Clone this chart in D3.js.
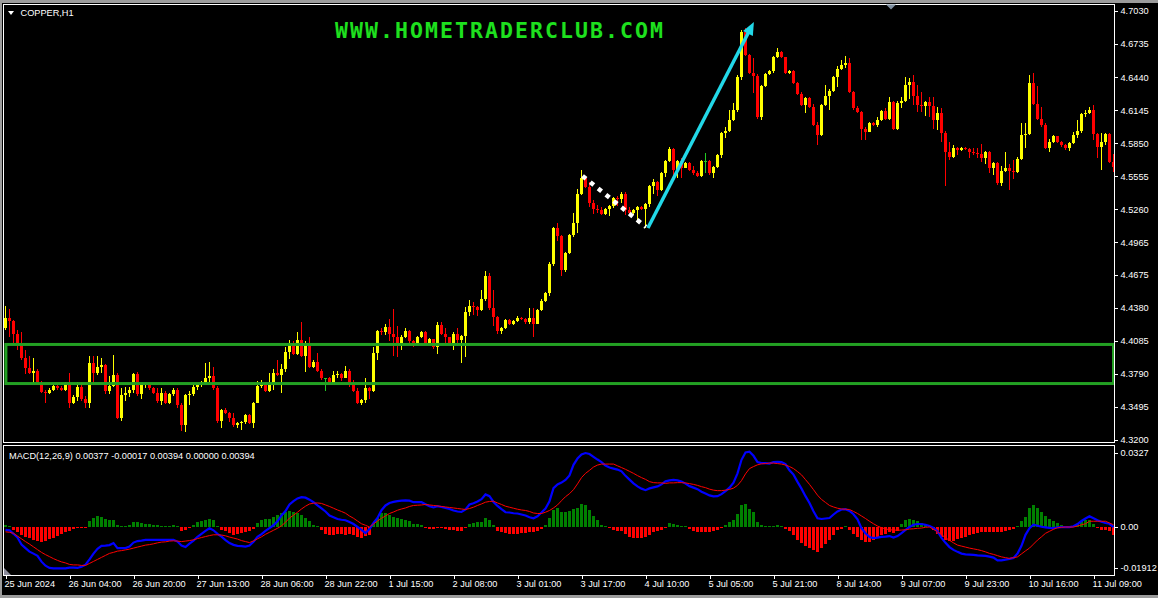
<!DOCTYPE html>
<html lang="en">
<head>
<meta charset="UTF-8">
<title>COPPER,H1</title>
<script src="https://d3js.org/d3.v7.min.js"></script>
<style>
  html, body { margin: 0; padding: 0; background: #000; overflow: hidden; }
  svg { display: block; }
  .axis text { fill: #fff; font-family: "Liberation Sans", Arial, sans-serif; font-size: 9.2px; }
  .axis line { stroke: #fff; shape-rendering: crispEdges; }
  .label { fill: #fff; font-family: "Liberation Sans", Arial, sans-serif; font-size: 9.2px; }
</style>
</head>
<body>
<svg id="chart" width="1158" height="598"></svg>
<script>
// ---- data ----
const firstOpen = 4.420;

const closes = [
  4.429,4.426,4.415,4.406,4.393,4.384,4.380,4.382,4.371,4.363,
  4.362,4.365,4.368,4.366,4.365,4.369,4.353,4.358,4.367,4.357,
  4.353,4.389,4.380,4.385,4.387,4.364,4.368,4.378,4.340,4.360,
  4.362,4.365,4.379,4.361,4.369,4.370,4.366,4.362,4.355,4.362,
  4.353,4.361,4.365,4.351,4.333,4.360,4.361,4.367,4.369,4.372,
  4.375,4.377,4.366,4.337,4.347,4.344,4.340,4.333,4.335,4.336,
  4.342,4.335,4.353,4.368,4.371,4.364,4.369,4.380,4.378,4.383,
  4.399,4.406,4.397,4.409,4.395,4.407,4.385,4.390,4.382,4.375,
  4.375,4.371,4.378,4.379,4.375,4.382,4.371,4.364,4.353,4.356,
  4.366,4.364,4.398,4.417,4.416,4.421,4.415,4.412,4.406,4.412,
  4.417,4.408,4.406,4.412,4.416,4.407,4.410,4.403,4.423,4.415,
  4.412,4.406,4.415,4.409,4.413,4.434,4.440,4.439,4.436,4.446,
  4.466,4.438,4.430,4.417,4.420,4.427,4.424,4.426,4.429,4.428,
  4.425,4.429,4.424,4.436,4.444,4.451,4.477,4.509,4.502,4.472,
  4.487,4.503,4.514,4.540,4.554,4.546,4.532,4.526,4.525,4.522,
  4.526,4.529,4.536,4.535,4.540,4.525,4.523,4.525,4.528,4.526,
  4.531,4.547,4.550,4.543,4.558,4.569,4.580,4.561,4.569,4.563,
  4.567,4.561,4.558,4.556,4.569,4.569,4.558,4.564,4.574,4.594,
  4.596,4.606,4.615,4.644,4.684,4.664,4.648,4.645,4.608,4.636,
  4.647,4.649,4.662,4.666,4.662,4.648,4.649,4.639,4.629,4.619,
  4.625,4.617,4.601,4.592,4.619,4.627,4.632,4.644,4.651,4.655,
  4.657,4.631,4.616,4.613,4.598,4.595,4.603,4.601,4.606,4.614,
  4.607,4.622,4.598,4.621,4.623,4.637,4.640,4.627,4.619,4.618,
  4.622,4.618,4.606,4.612,4.594,4.577,4.573,4.581,4.579,4.581,
  4.580,4.577,4.576,4.575,4.572,4.577,4.563,4.567,4.549,4.560,
  4.563,4.560,4.559,4.571,4.592,4.593,4.639,4.620,4.607,4.601,
  4.581,4.586,4.591,4.586,4.583,4.581,4.585,4.592,4.596,4.611,
  4.612,4.615,4.593,4.582,4.586,4.593,4.568,4.564
];

const highs = [
  4.440,4.437,4.427,4.418,4.416,4.400,4.395,4.393,4.383,4.373,
  4.365,4.366,4.369,4.369,4.368,4.372,4.380,4.360,4.372,4.369,
  4.359,4.395,4.395,4.395,4.393,4.388,4.377,4.396,4.380,4.366,
  4.367,4.367,4.380,4.381,4.370,4.371,4.371,4.367,4.366,4.366,
  4.364,4.362,4.366,4.366,4.353,4.361,4.364,4.369,4.370,4.373,
  4.389,4.390,4.385,4.368,4.348,4.349,4.345,4.344,4.336,4.337,
  4.343,4.343,4.354,4.373,4.374,4.372,4.380,4.383,4.391,4.388,
  4.403,4.409,4.408,4.416,4.425,4.408,4.412,4.391,4.398,4.383,
  4.375,4.376,4.382,4.382,4.380,4.386,4.383,4.374,4.366,4.357,
  4.375,4.367,4.403,4.418,4.420,4.424,4.428,4.437,4.422,4.414,
  4.420,4.418,4.409,4.413,4.417,4.417,4.411,4.410,4.425,4.425,
  4.420,4.412,4.416,4.420,4.414,4.439,4.445,4.443,4.440,4.454,
  4.471,4.469,4.454,4.431,4.421,4.428,4.428,4.427,4.431,4.430,
  4.429,4.438,4.438,4.437,4.446,4.452,4.479,4.510,4.514,4.503,
  4.488,4.504,4.523,4.544,4.561,4.555,4.550,4.534,4.530,4.528,
  4.527,4.530,4.537,4.538,4.541,4.541,4.528,4.526,4.529,4.529,
  4.532,4.548,4.553,4.551,4.559,4.570,4.582,4.581,4.570,4.572,
  4.568,4.568,4.565,4.560,4.570,4.576,4.570,4.565,4.575,4.595,
  4.599,4.615,4.621,4.646,4.686,4.688,4.665,4.661,4.647,4.637,
  4.648,4.650,4.663,4.670,4.667,4.659,4.650,4.650,4.640,4.631,
  4.626,4.626,4.620,4.604,4.620,4.637,4.633,4.645,4.654,4.659,
  4.663,4.661,4.632,4.618,4.614,4.599,4.604,4.604,4.608,4.615,
  4.616,4.626,4.623,4.623,4.626,4.644,4.643,4.646,4.637,4.631,
  4.623,4.626,4.626,4.617,4.616,4.596,4.586,4.583,4.582,4.582,
  4.582,4.581,4.581,4.581,4.584,4.578,4.578,4.568,4.568,4.565,
  4.577,4.566,4.570,4.573,4.603,4.603,4.646,4.648,4.636,4.617,
  4.603,4.589,4.592,4.591,4.587,4.584,4.586,4.595,4.606,4.612,
  4.615,4.617,4.619,4.594,4.594,4.594,4.594,4.575
];

const lows = [
  4.418,4.412,4.407,4.400,4.391,4.379,4.379,4.371,4.369,4.362,
  4.353,4.361,4.364,4.365,4.364,4.364,4.349,4.352,4.355,4.355,
  4.349,4.349,4.371,4.378,4.380,4.361,4.361,4.367,4.339,4.337,
  4.355,4.358,4.362,4.359,4.357,4.366,4.365,4.361,4.353,4.351,
  4.352,4.352,4.359,4.349,4.328,4.327,4.351,4.359,4.365,4.367,
  4.371,4.372,4.365,4.335,4.331,4.343,4.336,4.332,4.331,4.329,
  4.334,4.334,4.331,4.353,4.366,4.363,4.363,4.365,4.377,4.362,
  4.381,4.392,4.396,4.396,4.394,4.381,4.384,4.384,4.381,4.374,
  4.364,4.370,4.370,4.375,4.373,4.375,4.367,4.363,4.352,4.351,
  4.353,4.357,4.363,4.391,4.414,4.414,4.408,4.395,4.394,4.400,
  4.411,4.407,4.403,4.405,4.411,4.406,4.406,4.401,4.397,4.414,
  4.407,4.405,4.400,4.404,4.389,4.394,4.431,4.432,4.431,4.435,
  4.444,4.436,4.422,4.415,4.415,4.419,4.423,4.423,4.425,4.427,
  4.424,4.424,4.412,4.424,4.435,4.443,4.449,4.475,4.498,4.466,
  4.470,4.486,4.501,4.505,4.539,4.545,4.528,4.522,4.523,4.521,
  4.521,4.520,4.527,4.529,4.532,4.521,4.522,4.521,4.514,4.525,
  4.509,4.528,4.540,4.538,4.542,4.555,4.568,4.554,4.554,4.554,
  4.563,4.560,4.557,4.555,4.555,4.558,4.557,4.554,4.563,4.572,
  4.590,4.595,4.605,4.613,4.641,4.663,4.647,4.630,4.607,4.606,
  4.635,4.646,4.648,4.661,4.661,4.647,4.647,4.638,4.628,4.618,
  4.612,4.616,4.600,4.583,4.591,4.618,4.615,4.631,4.635,4.650,
  4.652,4.630,4.615,4.612,4.588,4.588,4.595,4.600,4.599,4.605,
  4.606,4.606,4.597,4.597,4.616,4.622,4.624,4.619,4.613,4.613,
  4.609,4.608,4.598,4.597,4.586,4.547,4.570,4.572,4.574,4.578,
  4.579,4.572,4.574,4.572,4.568,4.566,4.558,4.557,4.548,4.547,
  4.559,4.543,4.553,4.558,4.570,4.581,4.592,4.619,4.606,4.599,
  4.580,4.577,4.585,4.585,4.582,4.579,4.578,4.584,4.590,4.594,
  4.608,4.611,4.588,4.572,4.561,4.583,4.567,4.559
];

// MACD(12,26,9): main (blue), signal (red), histogram
const macdMain = [
  -0.0011,-0.0013,-0.0027,-0.0042,-0.0070,-0.0084,-0.0098,-0.0106,-0.0115,-0.0138,
  -0.0154,-0.0163,-0.0165,-0.0165,-0.0165,-0.0165,-0.0162,-0.0162,-0.0163,-0.0158,
  -0.0150,-0.0129,-0.0106,-0.0087,-0.0075,-0.0074,-0.0072,-0.0064,-0.0084,-0.0084,
  -0.0084,-0.0078,-0.0062,-0.0056,-0.0054,-0.0051,-0.0051,-0.0051,-0.0051,-0.0051,
  -0.0051,-0.0051,-0.0051,-0.0058,-0.0074,-0.0080,-0.0066,-0.0054,-0.0039,-0.0027,
  -0.0015,-0.0005,-0.0013,-0.0027,-0.0038,-0.0052,-0.0064,-0.0071,-0.0075,-0.0076,
  -0.0078,-0.0074,-0.0059,-0.0039,-0.0028,-0.0015,-0.0004,0.0007,0.0023,0.0046,
  0.0064,0.0090,0.0103,0.0114,0.0119,0.0117,0.0109,0.0099,0.0086,0.0074,
  0.0062,0.0046,0.0039,0.0032,0.0029,0.0027,0.0020,0.0012,0.0001,-0.0011,
  -0.0024,-0.0008,0.0016,0.0036,0.0067,0.0086,0.0096,0.0100,0.0103,0.0105,
  0.0106,0.0105,0.0099,0.0099,0.0099,0.0091,0.0083,0.0078,0.0083,0.0080,
  0.0076,0.0072,0.0066,0.0062,0.0060,0.0070,0.0090,0.0095,0.0102,0.0111,
  0.0130,0.0123,0.0100,0.0084,0.0071,0.0059,0.0058,0.0055,0.0054,0.0050,
  0.0046,0.0039,0.0035,0.0043,0.0058,0.0074,0.0103,0.0155,0.0170,0.0177,
  0.0188,0.0206,0.0248,0.0273,0.0289,0.0295,0.0291,0.0280,0.0269,0.0259,
  0.0245,0.0237,0.0233,0.0229,0.0222,0.0204,0.0189,0.0174,0.0162,0.0153,
  0.0147,0.0154,0.0158,0.0162,0.0170,0.0182,0.0186,0.0188,0.0186,0.0181,
  0.0173,0.0163,0.0157,0.0151,0.0141,0.0134,0.0126,0.0122,0.0123,0.0131,
  0.0143,0.0157,0.0177,0.0214,0.0268,0.0297,0.0300,0.0284,0.0259,0.0255,
  0.0255,0.0253,0.0259,0.0260,0.0259,0.0251,0.0226,0.0209,0.0180,0.0153,
  0.0123,0.0096,0.0063,0.0035,0.0032,0.0034,0.0036,0.0050,0.0062,0.0070,
  0.0071,0.0064,0.0051,0.0031,-0.0005,-0.0025,-0.0040,-0.0044,-0.0042,-0.0039,
  -0.0038,-0.0036,-0.0042,-0.0036,-0.0024,-0.0011,0.0000,0.0009,0.0012,0.0012,
  0.0009,0.0004,-0.0004,-0.0017,-0.0043,-0.0063,-0.0080,-0.0091,-0.0099,-0.0106,
  -0.0109,-0.0110,-0.0111,-0.0113,-0.0114,-0.0115,-0.0118,-0.0122,-0.0133,-0.0133,
  -0.0130,-0.0127,-0.0123,-0.0106,-0.0075,-0.0031,-0.0005,0.0009,0.0005,0.0001,
  -0.0001,-0.0003,-0.0004,-0.0001,0.0000,0.0000,0.0000,0.0003,0.0012,0.0024,
  0.0034,0.0043,0.0035,0.0027,0.0021,0.0016,0.0013,0.0000
];

const macdSignal = [
  -0.0019,-0.0021,-0.0025,-0.0036,-0.0047,-0.0058,-0.0068,-0.0079,-0.0090,-0.0101,
  -0.0110,-0.0118,-0.0126,-0.0133,-0.0139,-0.0143,-0.0149,-0.0151,-0.0151,-0.0153,
  -0.0153,-0.0145,-0.0137,-0.0129,-0.0121,-0.0113,-0.0105,-0.0101,-0.0096,-0.0094,
  -0.0091,-0.0088,-0.0084,-0.0080,-0.0076,-0.0072,-0.0070,-0.0067,-0.0063,-0.0060,
  -0.0059,-0.0056,-0.0055,-0.0056,-0.0058,-0.0056,-0.0054,-0.0051,-0.0046,-0.0042,
  -0.0038,-0.0034,-0.0031,-0.0031,-0.0032,-0.0035,-0.0040,-0.0044,-0.0048,-0.0054,
  -0.0058,-0.0062,-0.0055,-0.0047,-0.0039,-0.0029,-0.0021,-0.0013,-0.0005,0.0005,
  0.0019,0.0036,0.0047,0.0059,0.0072,0.0083,0.0092,0.0095,0.0096,0.0094,
  0.0088,0.0082,0.0075,0.0068,0.0062,0.0055,0.0044,0.0035,0.0024,0.0013,
  0.0007,0.0000,0.0012,0.0024,0.0035,0.0044,0.0054,0.0060,0.0067,0.0072,
  0.0076,0.0082,0.0086,0.0087,0.0088,0.0090,0.0088,0.0086,0.0084,0.0082,
  0.0080,0.0078,0.0076,0.0074,0.0072,0.0070,0.0074,0.0079,0.0086,0.0092,
  0.0099,0.0102,0.0103,0.0096,0.0090,0.0083,0.0079,0.0075,0.0071,0.0068,
  0.0066,0.0062,0.0056,0.0054,0.0054,0.0059,0.0066,0.0076,0.0088,0.0105,
  0.0121,0.0133,0.0149,0.0172,0.0197,0.0214,0.0226,0.0239,0.0247,0.0251,
  0.0251,0.0251,0.0251,0.0244,0.0237,0.0230,0.0222,0.0214,0.0205,0.0197,
  0.0190,0.0181,0.0177,0.0176,0.0176,0.0174,0.0176,0.0176,0.0177,0.0177,
  0.0176,0.0173,0.0170,0.0166,0.0161,0.0157,0.0151,0.0147,0.0145,0.0145,
  0.0147,0.0150,0.0155,0.0166,0.0185,0.0212,0.0233,0.0241,0.0248,0.0252,
  0.0253,0.0255,0.0255,0.0253,0.0251,0.0247,0.0241,0.0233,0.0221,0.0208,
  0.0189,0.0170,0.0149,0.0127,0.0110,0.0098,0.0086,0.0080,0.0075,0.0072,
  0.0071,0.0070,0.0062,0.0054,0.0044,0.0034,0.0023,0.0013,0.0004,-0.0003,
  -0.0007,-0.0011,-0.0012,-0.0013,-0.0012,-0.0011,-0.0008,-0.0007,-0.0005,-0.0004,
  -0.0001,0.0000,-0.0009,-0.0019,-0.0030,-0.0043,-0.0053,-0.0063,-0.0072,-0.0076,
  -0.0080,-0.0084,-0.0087,-0.0090,-0.0094,-0.0099,-0.0105,-0.0109,-0.0114,-0.0119,
  -0.0122,-0.0125,-0.0122,-0.0119,-0.0107,-0.0095,-0.0084,-0.0068,-0.0052,-0.0039,
  -0.0025,-0.0017,-0.0009,-0.0003,-0.0001,0.0000,0.0000,0.0000,0.0004,0.0009,
  0.0013,0.0023,0.0023,0.0023,0.0023,0.0023,0.0016,0.0009
];

const macdHist = [
  0.0008,0.0005,-0.0013,-0.0021,-0.0031,-0.0038,-0.0044,-0.0051,-0.0055,-0.0058,
  -0.0055,-0.0048,-0.0042,-0.0035,-0.0028,-0.0021,-0.0017,-0.0008,-0.0005,-0.0005,
  -0.0004,0.0023,0.0036,0.0043,0.0040,0.0032,0.0029,0.0027,0.0009,0.0005,
  0.0005,0.0009,0.0019,0.0019,0.0016,0.0013,0.0012,0.0009,0.0008,0.0005,
  0.0004,0.0005,0.0008,0.0004,-0.0017,-0.0013,-0.0005,0.0009,0.0019,0.0023,
  0.0029,0.0034,0.0029,0.0005,-0.0013,-0.0017,-0.0024,-0.0031,-0.0028,-0.0024,
  -0.0021,-0.0017,-0.0008,0.0016,0.0029,0.0032,0.0032,0.0040,0.0046,0.0054,
  0.0059,0.0063,0.0059,0.0054,0.0046,0.0036,0.0023,0.0009,0.0005,-0.0013,
  -0.0027,-0.0031,-0.0031,-0.0028,-0.0028,-0.0031,-0.0028,-0.0031,-0.0040,-0.0044,
  -0.0035,-0.0031,0.0016,0.0036,0.0054,0.0054,0.0046,0.0040,0.0036,0.0032,
  0.0029,0.0023,0.0013,0.0011,0.0008,-0.0005,-0.0008,-0.0008,-0.0004,-0.0004,
  -0.0008,-0.0011,-0.0013,-0.0017,-0.0017,-0.0004,0.0013,0.0016,0.0019,0.0019,
  0.0036,0.0029,0.0009,-0.0017,-0.0021,-0.0024,-0.0027,-0.0028,-0.0027,-0.0024,
  -0.0024,-0.0021,-0.0021,-0.0017,-0.0008,0.0009,0.0036,0.0067,0.0076,0.0059,
  0.0059,0.0063,0.0070,0.0076,0.0090,0.0086,0.0067,0.0043,0.0029,0.0009,
  0.0003,-0.0004,-0.0013,-0.0017,-0.0017,-0.0027,-0.0040,-0.0044,-0.0044,-0.0044,
  -0.0040,-0.0031,-0.0021,-0.0017,-0.0011,-0.0004,0.0016,0.0013,0.0008,0.0005,
  0.0003,-0.0008,-0.0017,-0.0021,-0.0021,-0.0021,-0.0021,-0.0017,-0.0011,-0.0004,
  0.0009,0.0019,0.0027,0.0050,0.0086,0.0090,0.0072,0.0059,0.0019,0.0009,
  0.0005,0.0003,0.0005,0.0008,0.0005,-0.0009,-0.0017,-0.0032,-0.0051,-0.0064,
  -0.0075,-0.0084,-0.0091,-0.0098,-0.0084,-0.0067,-0.0051,-0.0031,-0.0013,-0.0008,
  0.0005,-0.0011,-0.0027,-0.0040,-0.0051,-0.0058,-0.0058,-0.0051,-0.0040,-0.0031,
  -0.0027,-0.0021,-0.0024,-0.0017,0.0013,0.0027,0.0032,0.0027,0.0023,0.0016,
  0.0008,0.0005,-0.0011,-0.0027,-0.0038,-0.0051,-0.0054,-0.0054,-0.0048,-0.0044,
  -0.0038,-0.0031,-0.0027,-0.0024,-0.0021,-0.0019,-0.0019,-0.0021,-0.0021,-0.0019,
  -0.0016,-0.0013,-0.0008,0.0005,0.0023,0.0040,0.0076,0.0086,0.0076,0.0059,
  0.0043,0.0032,0.0023,0.0016,0.0009,0.0005,0.0003,0.0005,0.0013,0.0023,
  0.0029,0.0029,0.0013,-0.0004,-0.0011,-0.0011,-0.0017,-0.0031
];

const timeLabels = [
  "25 Jun 2024","26 Jun 04:00","26 Jun 20:00","27 Jun 13:00","28 Jun 06:00","28 Jun 22:00",
  "1 Jul 15:00","2 Jul 08:00","3 Jul 01:00","3 Jul 17:00","4 Jul 10:00","5 Jul 05:00",
  "5 Jul 21:00","8 Jul 14:00","9 Jul 07:00","9 Jul 23:00","10 Jul 16:00","11 Jul 09:00"
];
const barsPerLabel = 16;

const priceTicks = [4.7030,4.6735,4.6440,4.6145,4.5850,4.5555,4.5260,4.4965,4.4675,4.4380,4.4085,4.3790,4.3495,4.3200];
const macdTicks = [0.0327, 0, -0.01912];
const macdTickLabels = ["0.0327", "0.00", "-0.01912"];

// drawn objects (bar index / price)
const zone = { fromBar: 0.1, toBar: 277, top: 4.4053, bottom: 4.3704 };
const dottedLeg = [{ bar: 144.25, price: 4.5557 }, { bar: 160.1, price: 4.5102 }];
const arrowLeg = [{ bar: 160.6, price: 4.5093 }, { bar: 187.1, price: 4.6932 }];

// ---- layout ----
const svg = d3.select("#chart");
const W = 1158, H = 598;
const left = 4, right = 1114;
const priceTop = 4, priceBottom = 442;
const macdTop = 445, macdBottom = 575;
const n = closes.length;

const x = d3.scaleLinear().domain([0, n - 1]).range([5.5, 5.5 + 4 * (n - 1)]);
const yPrice = d3.scaleLinear().domain([4.3200, 4.7030]).range([440, 11]);
const yMacd = d3.scaleLinear().domain([-0.01912, 0.0327]).range([macdBottom, macdTop]);

// window chrome
svg.append("rect").attr("width", W).attr("height", H).attr("fill", "#000");
svg.append("rect").attr("x", 0).attr("y", 0).attr("width", W).attr("height", 3).attr("fill", "#9c9c9c");
svg.append("rect").attr("x", 0).attr("y", 0).attr("width", 2).attr("height", H).attr("fill", "#9c9c9c");
svg.append("rect").attr("x", 0).attr("y", 595).attr("width", W).attr("height", 3).attr("fill", "#9c9c9c");

const defs = svg.append("defs");
defs.append("clipPath").attr("id", "clipPrice").append("rect")
  .attr("x", left).attr("y", priceTop + 1).attr("width", right - left).attr("height", priceBottom - priceTop - 1);
defs.append("clipPath").attr("id", "clipMacd").append("rect")
  .attr("x", left).attr("y", macdTop + 1).attr("width", right - left).attr("height", macdBottom - macdTop - 1);

// ---- candles ----
const bars = closes.map((c, i) => {
  const o = i === 0 ? firstOpen : closes[i - 1];
  return { i, o, c, h: Math.max(highs[i], o, c), l: Math.min(lows[i], o, c) };
});
const candleColor = d => d.c > d.o ? "#ffff00" : d.c < d.o ? "#ff0000" : "#22cc22";

const pricePlot = svg.append("g").attr("clip-path", "url(#clipPrice)").attr("shape-rendering", "crispEdges");

pricePlot.selectAll(".wick").data(bars).enter().append("rect")
  .attr("class", "wick")
  .attr("x", d => x(d.i) - 0.5)
  .attr("y", d => yPrice(d.h))
  .attr("width", 1)
  .attr("height", d => Math.max(1, yPrice(d.l) - yPrice(d.h)))
  .attr("fill", candleColor);

pricePlot.selectAll(".body").data(bars).enter().append("rect")
  .attr("class", "body")
  .attr("x", d => x(d.i) - 1.5)
  .attr("y", d => yPrice(Math.max(d.o, d.c)))
  .attr("width", 3)
  .attr("height", d => Math.max(1, Math.abs(yPrice(d.o) - yPrice(d.c))))
  .attr("fill", candleColor);

// support zone
const overlay = svg.append("g").attr("clip-path", "url(#clipPrice)");
overlay.append("rect")
  .attr("x", x(zone.fromBar))
  .attr("y", yPrice(zone.top))
  .attr("width", x(zone.toBar) - x(zone.fromBar))
  .attr("height", yPrice(zone.bottom) - yPrice(zone.top))
  .attr("fill", "none")
  .attr("stroke", "#23a023")
  .attr("stroke-width", 3);

// dotted pullback leg
const legLine = d3.line().x(d => x(d.bar)).y(d => yPrice(d.price));
overlay.append("path")
  .attr("d", legLine(dottedLeg))
  .attr("fill", "none")
  .attr("stroke", "#ffffff")
  .attr("stroke-width", 4.5)
  .attr("stroke-dasharray", "4.5,5.5");

// cyan arrow
const ax0 = x(arrowLeg[0].bar), ay0 = yPrice(arrowLeg[0].price);
const ax1 = x(arrowLeg[1].bar), ay1 = yPrice(arrowLeg[1].price);
const len = Math.hypot(ax1 - ax0, ay1 - ay0);
const ux = (ax1 - ax0) / len, uy = (ay1 - ay0) / len;
const headLen = 13, headHalf = 5.5;
const bx = ax1 - ux * headLen, by = ay1 - uy * headLen;
overlay.append("line")
  .attr("x1", ax0).attr("y1", ay0).attr("x2", bx + ux * 2).attr("y2", by + uy * 2)
  .attr("stroke", "#22d8e8").attr("stroke-width", 3.5);
overlay.append("path")
  .attr("d", `M${ax1},${ay1}L${bx - uy * headHalf},${by + ux * headHalf}L${bx + uy * headHalf},${by - ux * headHalf}Z`)
  .attr("fill", "#22d8e8");

// ---- MACD panel ----
const macdPlot = svg.append("g").attr("clip-path", "url(#clipMacd)");
macdPlot.selectAll(".hist").data(macdHist).enter().append("rect")
  .attr("class", "hist")
  .attr("shape-rendering", "crispEdges")
  .attr("x", (d, i) => x(i) - 1.5)
  .attr("y", d => d >= 0 ? yMacd(d) : yMacd(0))
  .attr("width", 3)
  .attr("height", d => Math.max(1, Math.abs(yMacd(d) - yMacd(0))))
  .attr("fill", d => d >= 0 ? "#008000" : "#ff0000");

const macdLine = d3.line().x((d, i) => x(i)).y(d => yMacd(d));
macdPlot.append("path").attr("d", macdLine(macdMain))
  .attr("fill", "none").attr("stroke", "#0000ff").attr("stroke-width", 2.2);
macdPlot.append("path").attr("d", macdLine(macdSignal))
  .attr("fill", "none").attr("stroke", "#ff0000").attr("stroke-width", 1);

// small scroll marker bottom-left of indicator window
svg.append("path").attr("d", `M${left},${macdBottom - 7}L${left + 7},${macdBottom}L${left},${macdBottom}Z`).attr("fill", "#8c8c9c");

// ---- frames ----
svg.append("rect").attr("x", 3.5).attr("y", priceTop + 0.5).attr("width", right - 3)
  .attr("height", priceBottom - priceTop).attr("fill", "none").attr("stroke", "#fff").attr("shape-rendering", "crispEdges");
svg.append("rect").attr("x", 3.5).attr("y", macdTop + 0.5).attr("width", right - 3)
  .attr("height", macdBottom - macdTop).attr("fill", "none").attr("stroke", "#fff").attr("shape-rendering", "crispEdges");

// chart shift marker
svg.append("path").attr("d", "M886,4.5L896,4.5L891,9.5Z").attr("fill", "#7f8fa0");

// ---- axes ----
svg.append("g").attr("class", "axis")
  .attr("transform", `translate(${right + 0.5},0)`)
  .call(d3.axisRight(yPrice).tickValues(priceTicks).tickFormat(d3.format(".4f")).tickSize(3).tickPadding(3))
  .call(g => g.select(".domain").remove());

svg.append("g").attr("class", "axis")
  .attr("transform", `translate(${right + 0.5},0)`)
  .call(d3.axisRight(yMacd).tickValues(macdTicks).tickFormat((d, k) => macdTickLabels[k]).tickSize(3).tickPadding(3))
  .call(g => g.select(".domain").remove())
  .call(g => g.selectAll(".tick").attr("transform", d => `translate(0,${Math.max(macdTop + 8, Math.min(macdBottom - 7, yMacd(d))) + 0.5})`));

svg.append("g").attr("class", "axis")
  .attr("transform", `translate(0,${macdBottom + 0.5})`)
  .call(d3.axisBottom(x).tickValues(timeLabels.map((t, k) => k * barsPerLabel))
    .tickFormat((d, k) => timeLabels[k]).tickSize(3).tickPadding(2))
  .call(g => g.select(".domain").remove())
  .call(g => g.selectAll("text").attr("text-anchor", "start").attr("x", -1.5));

// ---- texts ----
svg.append("path").attr("d", "M8,11L14,11L11,15Z").attr("fill", "#fff");
svg.append("text").attr("class", "label").attr("x", 20.5).attr("y", 16.3).text("COPPER,H1");
svg.append("text").attr("class", "label").attr("x", 9).attr("y", 458.5)
  .text("MACD(12,26,9) 0.00377 -0.00017 0.00394 0.00000 0.00394");

svg.append("text")
  .attr("x", 335).attr("y", 38)
  .attr("textLength", 328)
  .attr("font-family", "'DejaVu Sans Mono', monospace")
  .attr("font-weight", "bold")
  .attr("font-size", 21.5)
  .attr("fill", "#1ee01e")
  .text("WWW.HOMETRADERCLUB.COM");
</script>
</body>
</html>
